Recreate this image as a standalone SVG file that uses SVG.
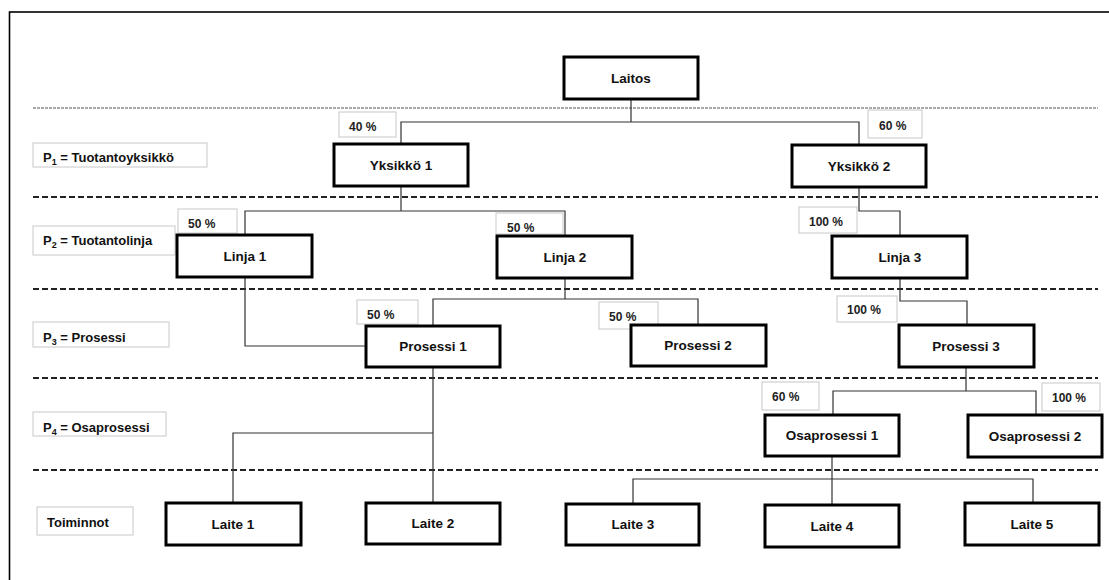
<svg xmlns="http://www.w3.org/2000/svg" width="1109" height="580" viewBox="0 0 1109 580">
<style>
.node rect{fill:#fff;stroke:#000;stroke-width:3}
.node text{font-family:"Liberation Sans",Arial,sans-serif;font-weight:bold;font-size:13.5px;fill:#111;text-anchor:middle}
.pct rect,.lbl rect{fill:#fff;stroke:#c8c8c8;stroke-width:1}
.pct text{font-family:"Liberation Sans",Arial,sans-serif;font-weight:bold;font-size:12px;fill:#222}
.lbl text{font-family:"Liberation Sans",Arial,sans-serif;font-weight:bold;font-size:13px;fill:#111}
.sep{stroke:#222;stroke-width:2;stroke-dasharray:6,3;fill:none}
.sep0{stroke:#555;stroke-width:1;stroke-dasharray:3,1;fill:none}
#connectors path{fill:none;stroke:#333;stroke-width:1.2}
</style>
<rect width="1109" height="580" fill="#fff"/>
<rect x="9.5" y="12" width="1110" height="580" fill="none" stroke="#000" stroke-width="1.6"/>
<g id="separators">
<line class="sep0" x1="33" y1="108" x2="1098" y2="108"/>
<line class="sep" x1="33" y1="197" x2="1098" y2="197"/>
<line class="sep" x1="33" y1="289" x2="1098" y2="289"/>
<line class="sep" x1="33" y1="378" x2="1098" y2="378"/>
<line class="sep" x1="33" y1="470" x2="1098" y2="470"/>
</g>
<g id="connectors">
<path d="M631 99V122M401 144V122H859V145"/>
<path d="M401 186V211M245 235V211H565V236"/>
<path d="M859 187V211H900V236"/>
<path d="M245 277V346H366"/>
<path d="M565 278V299M433 326V299H698V325"/>
<path d="M900 278V301H967V325"/>
<path d="M433 367V503M233 503V433H433"/>
<path d="M966 367V391M833 415V391H1036V415"/>
<path d="M832 456V505M633 504V479H1033V503"/>
</g>
<g id="levels">
<g class="lbl" id="lbl-p1"><rect x="33" y="143" width="174" height="24"/><text x="43" y="162">P<tspan font-size="9" dy="3">1</tspan><tspan dy="-3"> = Tuotantoyksikkö</tspan></text></g>
<g class="lbl" id="lbl-p2"><rect x="33" y="226" width="142" height="29"/><text x="43" y="245">P<tspan font-size="9" dy="3">2</tspan><tspan dy="-3"> = Tuotantolinja</tspan></text></g>
<g class="lbl" id="lbl-p3"><rect x="33" y="322" width="136" height="25"/><text x="43" y="342">P<tspan font-size="9" dy="3">3</tspan><tspan dy="-3"> = Prosessi</tspan></text></g>
<g class="lbl" id="lbl-p4"><rect x="33" y="412" width="133" height="24"/><text x="43" y="432">P<tspan font-size="9" dy="3">4</tspan><tspan dy="-3"> = Osaprosessi</tspan></text></g>
<g class="lbl" id="lbl-toiminnot"><rect x="37" y="507" width="96" height="28"/><text x="47" y="527">Toiminnot</text></g>
</g>
<g id="percentages">
<g class="pct"><rect x="339" y="112" width="57" height="25"/><text x="349" y="131">40 %</text></g>
<g class="pct"><rect x="868" y="110" width="54" height="28"/><text x="879" y="130">60 %</text></g>
<g class="pct"><rect x="178" y="209" width="59" height="24"/><text x="188" y="228">50 %</text></g>
<g class="pct"><rect x="496" y="213" width="67" height="21"/><text x="507" y="232">50 %</text></g>
<g class="pct"><rect x="799" y="207" width="58" height="26"/><text x="809" y="226">100 %</text></g>
<g class="pct"><rect x="357" y="300" width="61" height="24"/><text x="367" y="319">50 %</text></g>
<g class="pct"><rect x="599" y="302" width="59" height="27"/><text x="609" y="321">50 %</text></g>
<g class="pct"><rect x="837" y="296" width="60" height="26"/><text x="847" y="314">100 %</text></g>
<g class="pct"><rect x="762" y="382" width="57" height="28"/><text x="772" y="401">60 %</text></g>
<g class="pct"><rect x="1042" y="383" width="58" height="28"/><text x="1052" y="402">100 %</text></g>
</g>
<g class="node" id="laitos"><rect x="564" y="57" width="134" height="42"/><text x="631" y="83">Laitos</text></g>
<g class="node" id="yksikko1"><rect x="334" y="144" width="134" height="42"/><text x="401" y="170">Yksikkö 1</text></g>
<g class="node" id="yksikko2"><rect x="792" y="145" width="134" height="42"/><text x="859" y="171">Yksikkö 2</text></g>
<g class="node" id="linja1"><rect x="177" y="235" width="135" height="42"/><text x="245" y="261">Linja 1</text></g>
<g class="node" id="linja2"><rect x="497" y="236" width="135" height="42"/><text x="565" y="262">Linja 2</text></g>
<g class="node" id="linja3"><rect x="832" y="236" width="135" height="42"/><text x="900" y="262">Linja 3</text></g>
<g class="node" id="prosessi1"><rect x="366" y="326" width="134" height="41"/><text x="433" y="351">Prosessi 1</text></g>
<g class="node" id="prosessi2"><rect x="631" y="325" width="135" height="41"/><text x="698" y="350">Prosessi 2</text></g>
<g class="node" id="prosessi3"><rect x="899" y="325" width="135" height="42"/><text x="966" y="351">Prosessi 3</text></g>
<g class="node" id="osaprosessi1"><rect x="765" y="415" width="134" height="41"/><text x="832" y="440">Osaprosessi 1</text></g>
<g class="node" id="osaprosessi2"><rect x="968" y="415" width="134" height="42"/><text x="1035" y="441">Osaprosessi 2</text></g>
<g class="node" id="laite1"><rect x="166" y="503" width="135" height="42"/><text x="233" y="529">Laite 1</text></g>
<g class="node" id="laite2"><rect x="366" y="503" width="134" height="41"/><text x="433" y="528">Laite 2</text></g>
<g class="node" id="laite3"><rect x="566" y="504" width="133" height="41"/><text x="633" y="529">Laite 3</text></g>
<g class="node" id="laite4"><rect x="765" y="505" width="134" height="42"/><text x="832" y="531">Laite 4</text></g>
<g class="node" id="laite5"><rect x="965" y="503" width="134" height="42"/><text x="1032" y="529">Laite 5</text></g>
</svg>
